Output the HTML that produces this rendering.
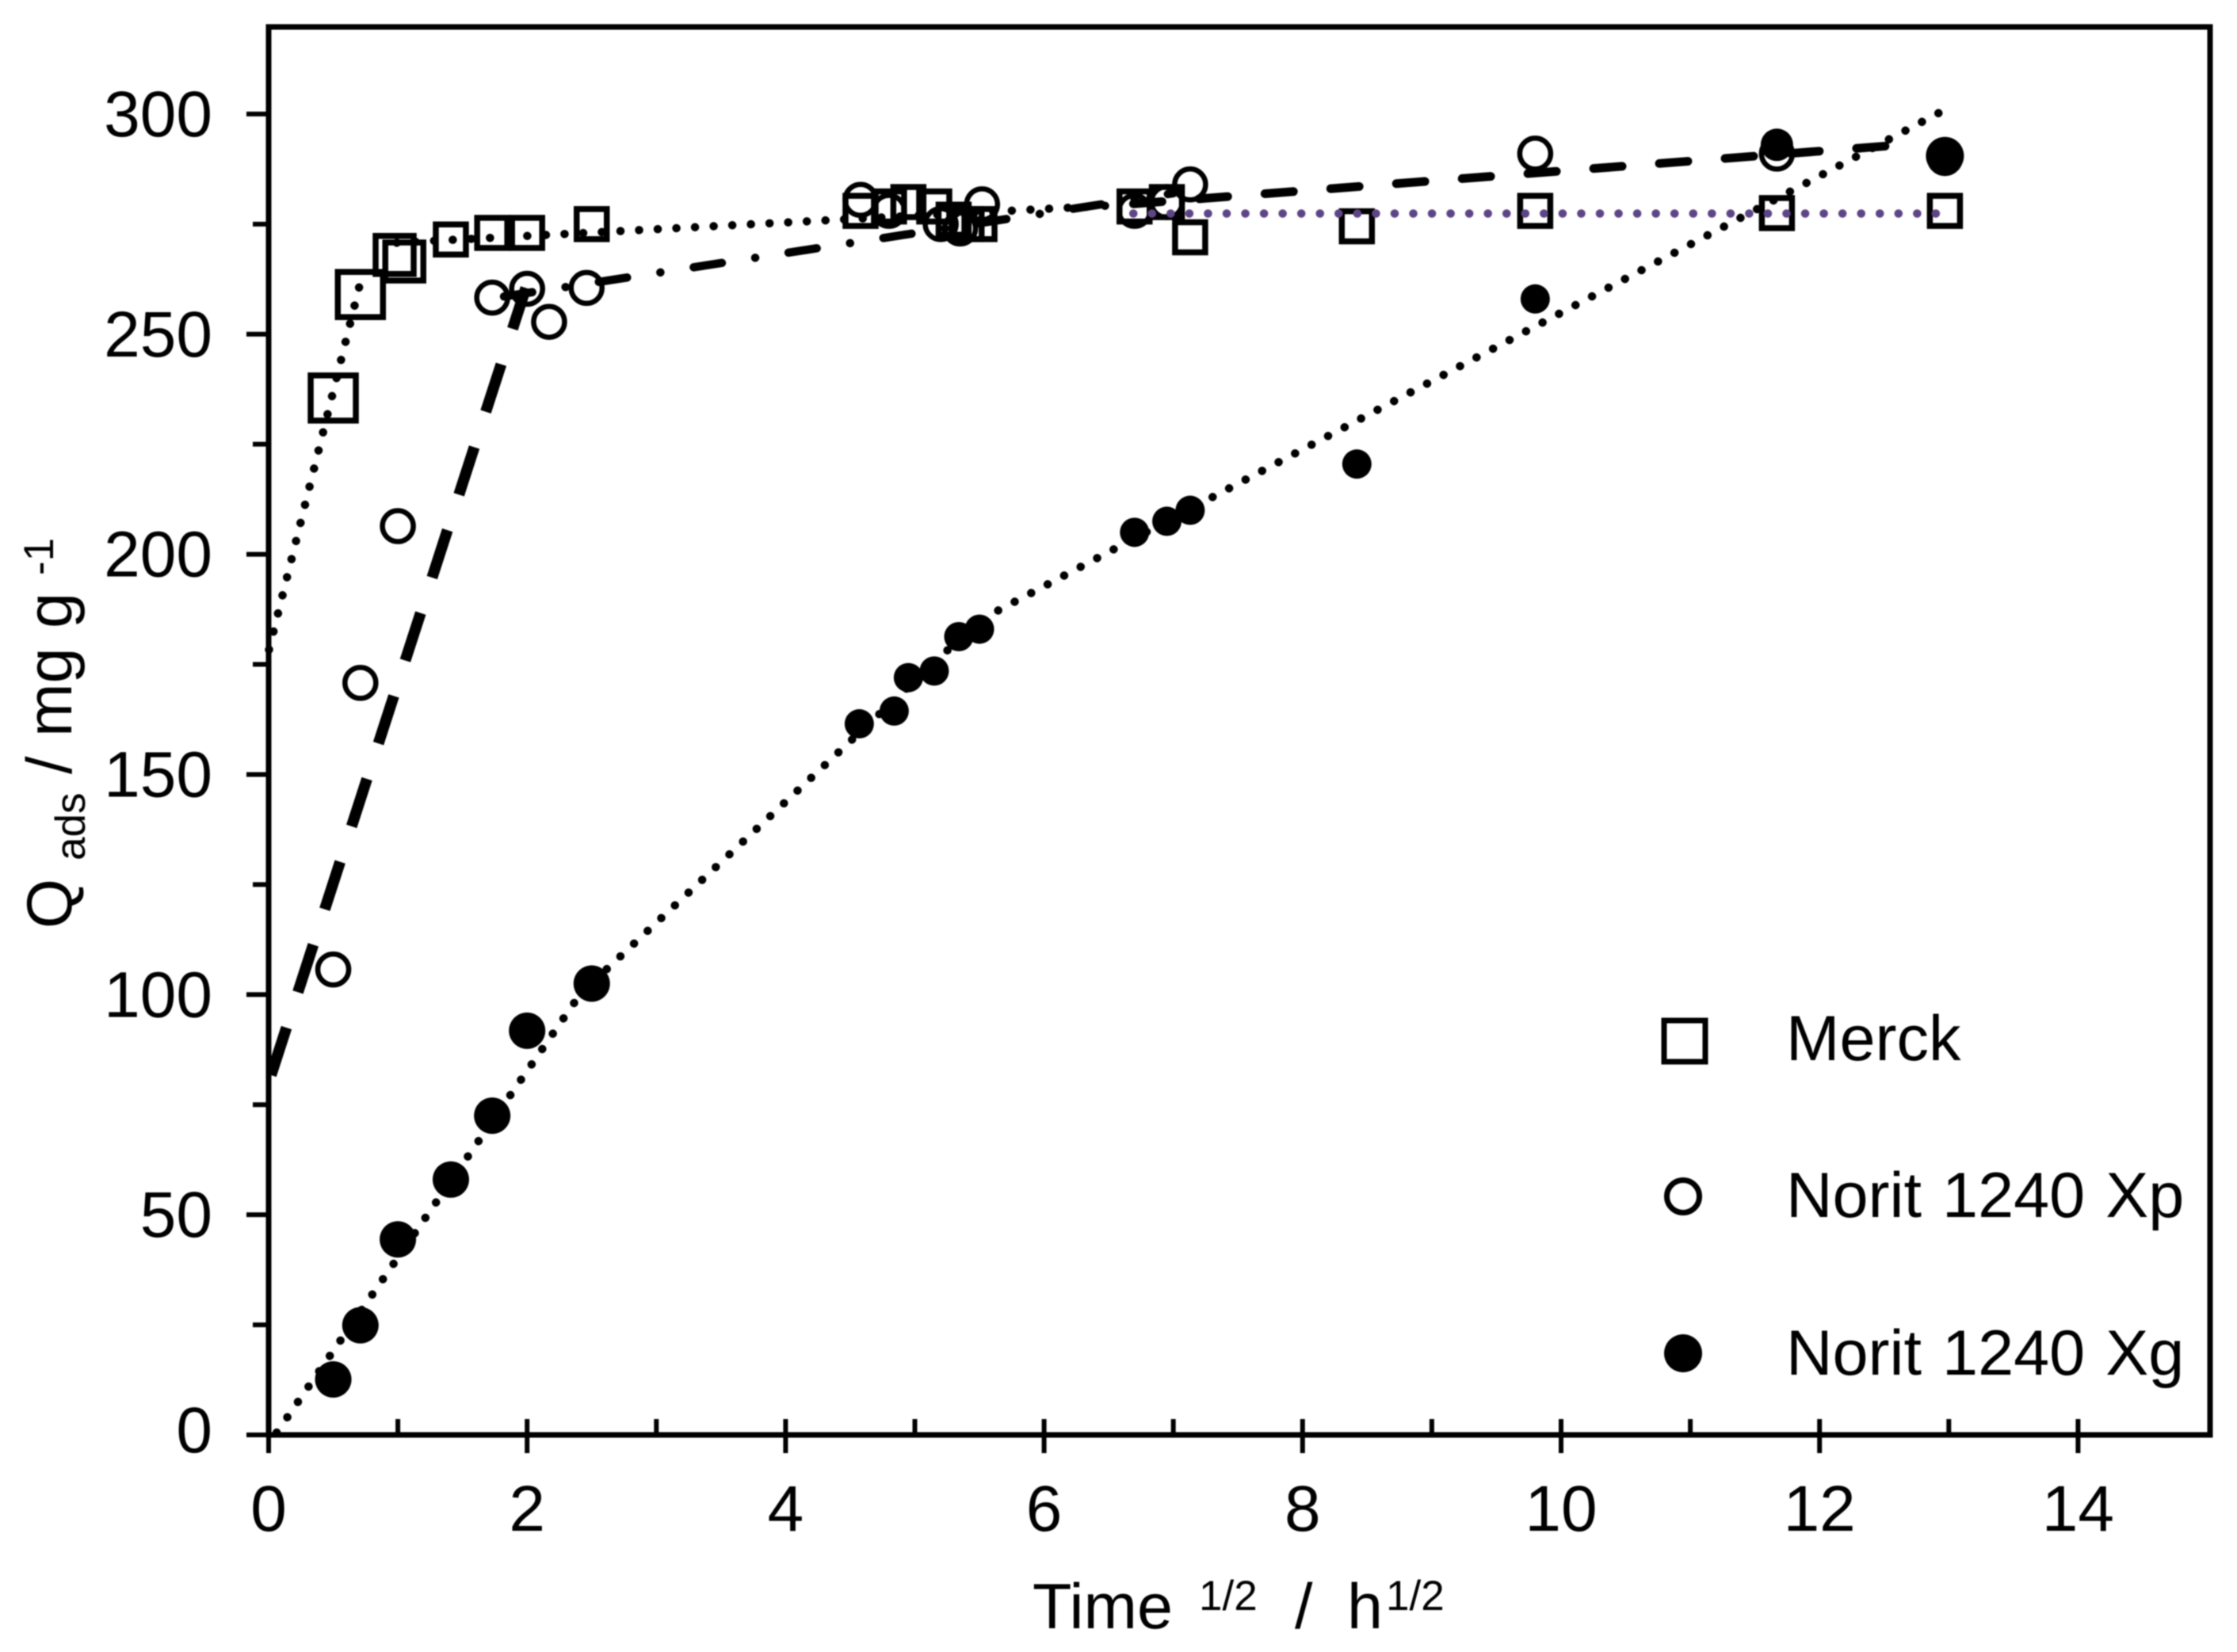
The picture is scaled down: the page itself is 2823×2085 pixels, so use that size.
<!DOCTYPE html>
<html lang="en">
<head>
<meta charset="utf-8">
<title>Adsorption kinetics chart</title>
<style>
  html, body { margin: 0; padding: 0; background: #fff; }
  svg { display: block; filter: blur(0.8px); }
  text { font-family: "Liberation Sans", Arial, sans-serif; fill: #000; }
</style>
</head>
<body>
<svg id="chart" xmlns="http://www.w3.org/2000/svg" width="2823" height="2085" viewBox="0 0 2823 2085">
  <rect width="2823" height="2085" fill="#fff"/>
  <rect x="339" y="34" width="2450" height="1777" fill="none" stroke="#000" stroke-width="7"/>
  <g id="ticks"></g>
  <g id="markers"></g>
  <g id="lines"></g>
  <g id="labels" font-size="82"></g>

  <g>
    <text x="1303" y="2055" font-size="81">Time</text>
    <text x="1513" y="2032" font-size="53">1/2</text>
    <text x="1634" y="2055" font-size="81">/</text>
    <text x="1700" y="2055" font-size="81">h</text>
    <text x="1749" y="2032" font-size="53">1/2</text>
  </g>
  <g>
    <text transform="translate(90 1172) rotate(-90)" font-size="81">Q</text>
    <text transform="translate(107 1086) rotate(-90)" font-size="53">ads</text>
    <text transform="translate(90 977) rotate(-90)" font-size="81">/</text>
    <text transform="translate(90 930) rotate(-90)" font-size="81">mg</text>
    <text transform="translate(90 793) rotate(-90)" font-size="81">g</text>
    <text transform="translate(67 726) rotate(-90)" font-size="53">-1</text>
  </g>
  <g>
    <rect x="2100" y="1288" width="52" height="52" fill="none" stroke="#000" stroke-width="7"/>
    <text x="2254" y="1338" font-size="81">Merck</text>
    <circle cx="2124" cy="1510" r="20.5" fill="none" stroke="#000" stroke-width="7"/>
    <text x="2254" y="1536" font-size="81" word-spacing="3.5">Norit 1240 Xp</text>
    <circle cx="2124" cy="1708" r="24" fill="#000"/>
    <text x="2254" y="1735" font-size="81" word-spacing="3.5">Norit 1240 Xg</text>
  </g>
</svg>
<script>
var xTickValues = [0, 2, 4, 6, 8, 10, 12, 14];
var xMinorValues = [1, 3, 5, 7, 9, 11, 13];
var yTickValues = [0, 50, 100, 150, 200, 250, 300];
var yMinorValues = [25, 75, 125, 175, 225, 275];

var merckTime = [0.5, 0.71, 0.975, 1.05, 1.41, 1.73, 2, 2.5, 4.58, 4.8, 4.95, 5.15, 5.3, 5.4, 5.5, 6.7, 6.95, 7.13, 8.42, 9.8, 11.67, 12.97];
var merckQ = [235.5, 259, 268, 266.5, 271.5, 273, 273, 275, 278, 279, 280, 279, 276, 275, 275, 279, 280, 272, 274.5, 278, 277.5, 278];

var xpTime = [0.5, 0.71, 1, 1.73, 2, 2.17, 2.46, 4.58, 4.8, 5.2, 5.35, 5.52, 6.7, 6.95, 7.13, 9.8, 11.67, 12.97];
var xpQ = [105.7, 170.8, 206.4, 258.3, 260.3, 252.8, 260.5, 280.5, 278, 275, 274, 279.5, 278, 280, 284, 291, 291, 290];

var xgTime = [0.5, 0.71, 1, 1.41, 1.73, 2, 2.5, 4.57, 4.84, 4.95, 5.15, 5.34, 5.5, 6.7, 6.95, 7.13, 8.42, 9.8, 11.67, 12.97];
var xgQ = [12.6, 24.9, 44.4, 58, 72.5, 91.8, 102.5, 161.5, 164.4, 172, 173.5, 181.3, 183, 205, 207.5, 210, 220.5, 258, 293, 290.5];

var merckFit1X = [0, 0.72];
var merckFit1Y = [178, 263];
var merckFit2X = [0.95, 6.5];
var merckFit2Y = [270.7, 279.2];
var merckFit3X = [6.68, 12.97];
var merckFit3Y = [277.4, 277.4];
var xpFit1X = [0, 1.99];
var xpFit1Y = [80, 260.5];
var xpFit2X = [1.7, 7];
var xpFit2Y = [258, 282];
var xpFit3X = [6.6, 12.55];
var xpFit3Y = [279.4, 292.8];
var xgFit1X = [0.05, 2.55];
var xgFit1Y = [0, 106];
var xgFit2X = [2.5, 5.5];
var xgFit2Y = [102.6, 185];
var xgFit3X = [5.5, 12.92];
var xgFit3Y = [185, 300.2];

var NS = 'http://www.w3.org/2000/svg';
function sx(v) { return 339 + v * 163.1; }
function sy(v) { return 1811 - v * 5.557; }
function make(tag, parent, attrs) {
  var el = document.createElementNS(NS, tag);
  for (var k in attrs) { el.setAttribute(k, attrs[k]); }
  parent.appendChild(el);
  return el;
}

var ticks = document.getElementById('ticks');
var labels = document.getElementById('labels');
var markers = document.getElementById('markers');
var lines = document.getElementById('lines');

xTickValues.forEach(function (v) {
  var t = make('line', ticks, { x1: sx(v), x2: sx(v), y1: 1791, y2: 1834, stroke: '#000', 'stroke-width': 6 });
  
  
  var l = make('text', labels, { x: sx(v), y: 1932, 'text-anchor': 'middle' });
  
  
  l.textContent = String(v);
});
xMinorValues.forEach(function (v) {
  var t = make('line', ticks, { x1: sx(v), x2: sx(v), y1: 1791, y2: 1811, stroke: '#000', 'stroke-width': 6 });
  
  
});
yTickValues.forEach(function (v) {
  var t = make('line', ticks, { x1: 311, x2: 339, y1: sy(v), y2: sy(v), stroke: '#000', 'stroke-width': 6 });
  
  
  var l = make('text', labels, { x: 268, y: sy(v) + (v === 0 ? 22 : 28), 'text-anchor': 'end' });
  
  
  l.textContent = String(v);
});
yMinorValues.forEach(function (v) {
  var t = make('line', ticks, { x1: 319, x2: 339, y1: sy(v), y2: sy(v), stroke: '#000', 'stroke-width': 6 });
  
  
});

function squareSide(t) { return t < 0.8 ? 57 : (t < 1.2 ? 48 : 38); }
function xgRadius(t) { return t <= 2.5 ? 23 : (t > 12 ? 24 : (t > 11 ? 20.5 : 18.5)); }

merckTime.forEach(function (t, i) {
  var s = squareSide(t);
  var m = make('rect', markers, { x: sx(t) - s / 2, y: sy(merckQ[i]) - s / 2, width: s, height: s, fill: 'none', stroke: '#000', 'stroke-width': 7.5 });
  
  
});
xpTime.forEach(function (t, i) {
  var m = make('circle', markers, { cx: sx(t), cy: sy(xpQ[i]), r: 19.5, fill: 'none', stroke: '#000', 'stroke-width': 6.5 });
  
  
});
xgTime.forEach(function (t, i) {
  var m = make('circle', markers, { cx: sx(t), cy: sy(xgQ[i]), r: xgRadius(t), fill: '#000' });
  
  
});

function fit(xs, ys, color, width, dash, cap, phase) {
  var f = make('line', lines, { x1: sx(xs[0]), y1: sy(ys[0]), x2: sx(xs[1]), y2: sy(ys[1]), stroke: color, 'stroke-width': width, 'stroke-dasharray': dash, 'stroke-dashoffset': phase, 'stroke-linecap': cap });
  return f;
}
var DOT = '0.1 23.45';
var f1 = fit(merckFit1X, merckFit1Y, '#000', 10.5, DOT, 'round', -1.95);


var f2 = fit(merckFit2X, merckFit2Y, '#000', 10.5, DOT, 'round', -6.8);


var f3 = fit(merckFit3X, merckFit3Y, '#5e4585', 10.5, DOT, 'round', -1.7);


var f4 = fit(xpFit1X, xpFit1Y, '#000', 14, '63 47', 'butt', -10);


var f5 = fit(xpFit2X, xpFit2Y, '#000', 10.5, '36 42.5 0.1 42.5', 'round', -20);


var f6 = fit(xpFit3X, xpFit3Y, '#000', 11, '36 47.2', 'round', -15);


var f7 = fit(xgFit1X, xgFit1Y, '#000', 10.5, DOT, 'round', -3.5);


var f8 = fit(xgFit2X, xgFit2Y, '#000', 10.5, DOT, 'round', -2.4);


var f9 = fit(xgFit3X, xgFit3Y, '#000', 10.5, DOT, 'round', -3.1);


</script>
</body>
</html>
